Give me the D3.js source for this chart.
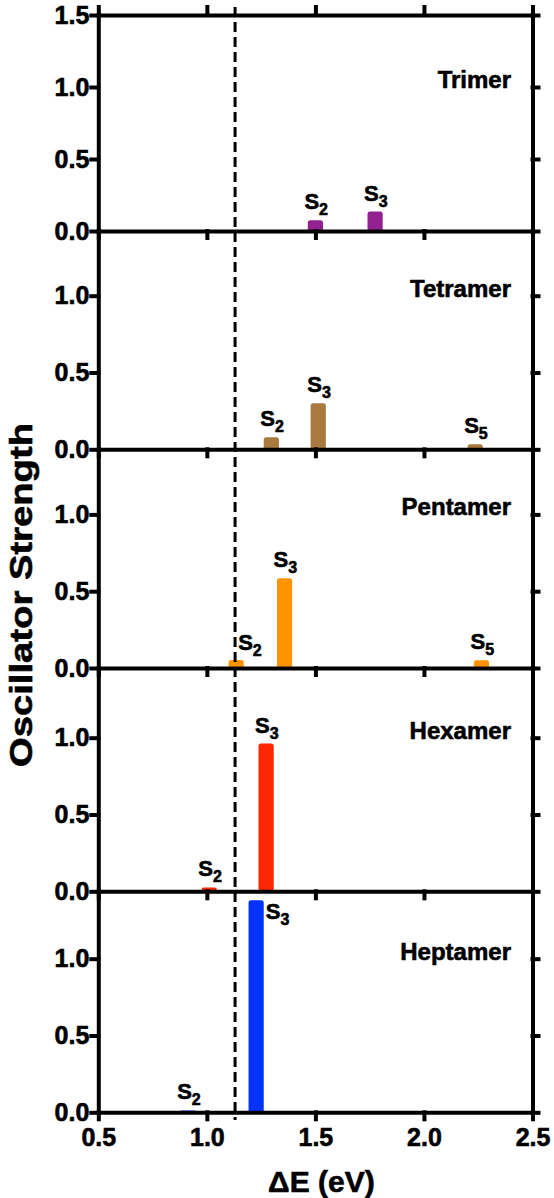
<!DOCTYPE html>
<html>
<head>
<meta charset="utf-8">
<title>Oscillator strength</title>
<script src="https://d3js.org/d3.v7.min.js"></script>
<style>
body { margin: 0; background: #fff; }
svg { display: block; background: #fff; }
text { font-family: "Liberation Sans", Arial, Helvetica, sans-serif; font-weight: bold; fill: #000;
       stroke: #000; stroke-width: 0.6px; }
.axis path, .axis line { stroke: #000; stroke-width: 4; stroke-linecap: square; }
.axis text { font-size: 25px; font-family: "Liberation Sans", Arial, sans-serif; font-weight: bold;
       stroke: #000; stroke-width: 0.6px; }
</style>
</head>
<body>
<script>
// data
var xTicks = [0.5, 1.0, 1.5, 2.0, 2.5];
var panelNames = ["Trimer", "Tetramer", "Pentamer", "Hexamer", "Heptamer"];
var panelColors = ["#942192", "#A9793F", "#FF9300", "#FF2600", "#0433FF"];
var thresholdE = 1.13;

var trimerE = [1.50, 1.775, 2.09];
var trimerF = [0.075, 0.135, 0.004];
var trimerS = ["2", "3", ""];

var tetramerE = [1.297, 1.513, 2.236];
var tetramerF = [0.078, 0.30, 0.033];
var tetramerS = ["2", "3", "5"];

var pentamerE = [1.135, 1.358, 2.265];
var pentamerF = [0.052, 0.584, 0.05];
var pentamerS = ["2", "3", "5"];

var hexamerE = [1.011, 1.273, 2.04];
var hexamerF = [0.025, 0.962, 0.006];
var hexamerS = ["2", "3", ""];

var heptamerE = [0.914, 1.227, 1.886];
var heptamerF = [0.012, 1.38, 0.004];
var heptamerS = ["2", "3", ""];

var panelE = [trimerE, tetramerE, pentamerE, hexamerE, heptamerE];
var panelF = [trimerF, tetramerF, pentamerF, hexamerF, heptamerF];
var panelS = [trimerS, tetramerS, pentamerS, hexamerS, heptamerS];

// layout
var W = 554, H = 1198;
var panelBase = [231, 449.3, 668, 891.3, 1112.3];
var panelTop  = [15, 231, 449.3, 668, 891.3];
var panelUnit = [144, 153.6, 153.6, 153.6, 153.6];   // px per 1.0 of strength
var barW = 0.07;  // in eV

var svg = d3.select("body").append("svg")
    .attr("width", W)
    .attr("height", H);

var x = d3.scaleLinear().domain([0.5, 2.5]).range([98.3, 532.5]);

// rounded-top bar
function barPath(x0, x1, yTop, yBot) {
    var r = Math.max(0, Math.min(2.5, (yBot - yTop) / 2, (x1 - x0) / 2));
    return "M" + x0 + "," + yBot +
        "V" + (yTop + r) +
        "Q" + x0 + "," + yTop + " " + (x0 + r) + "," + yTop +
        "H" + (x1 - r) +
        "Q" + x1 + "," + yTop + " " + x1 + "," + (yTop + r) +
        "V" + yBot + "Z";
}

function drawPanel(p) {
    var base = panelBase[p], pTop = panelTop[p];
    var y = d3.scaleLinear()
        .domain([0, (base - pTop) / panelUnit[p]])
        .range([base, pTop]);

    var g = svg.append("g").attr("class", "panel");

    var rows = panelE[p].map(function(e, i) {
        return { e: e, f: panelF[p][i], s: panelS[p][i] };
    });

    g.selectAll("path.bar")
        .data(rows)
        .enter().append("path")
        .attr("class", "bar")
        .attr("fill", panelColors[p])
        .attr("d", function(d) {
            return barPath(x(d.e - barW / 2), x(d.e + barW / 2), y(d.f), y(0));
        });

    // state labels
    rows.forEach(function(d) {
        if (!d.s) return;
        var lx = x(d.e) - 11, ly = y(d.f) - 11;
        if (p === 2 && d.s === "2") { lx = x(d.e) + 2; ly = y(d.f) - 10; }
        if (p === 4 && d.s === "3") { lx = x(d.e + barW / 2) + 2; ly = y(d.f) + 19; }
        var t = g.append("text")
            .attr("x", lx)
            .attr("y", ly)
            .style("font-size", "22px");
        t.append("tspan").text("S");
        t.append("tspan").attr("dy", 6).style("font-size", "16px").text(d.s);
    });

    // axes
    var yt = p === 0 ? [0, 0.5, 1.0, 1.5] : [0, 0.5, 1.0];
    g.append("g").attr("class", "axis")
        .attr("transform", "translate(" + x(0.5) + ",0)")
        .call(d3.axisLeft(y).tickValues(yt).tickSize(7).tickSizeOuter(0).tickPadding(2)
            .tickFormat(d3.format(".1f")));
    g.append("g").attr("class", "axis")
        .attr("transform", "translate(" + x(2.5) + ",0)")
        .call(d3.axisRight(y).tickValues(yt).tickSize(6).tickSizeOuter(0).tickFormat(""));
    g.append("g").attr("class", "axis")
        .attr("transform", "translate(0," + base + ")")
        .call(d3.axisBottom(x).tickValues(xTicks).tickSize(7).tickSizeOuter(0).tickPadding(9)
            .tickFormat(p === 4 ? d3.format(".1f") : ""));
    if (p === 0) {
        g.append("g").attr("class", "axis")
            .attr("transform", "translate(0," + pTop + ")")
            .call(d3.axisTop(x).tickValues(xTicks).tickSize(8).tickSizeOuter(0).tickFormat(""));
    }

    g.append("text")
        .attr("x", 511)
        .attr("y", y(1.0) + 1)
        .attr("text-anchor", "end")
        .style("font-size", "24px")
        .text(panelNames[p]);
}

for (var p = 0; p < 5; p++) drawPanel(p);

svg.selectAll(".axis text").style("font-size", "25px");

// dashed reference line
svg.append("line")
    .attr("x1", x(thresholdE)).attr("x2", x(thresholdE))
    .attr("y1", 7).attr("y2", 1120)
    .attr("stroke", "#000")
    .attr("stroke-width", 3)
    .attr("stroke-dasharray", "10,5");

// axis titles
svg.append("text")
    .attr("x", (x(0.5) + x(2.5)) / 2 + 6)
    .attr("y", 1192)
    .attr("text-anchor", "middle")
    .style("font-size", "30px")
    .text("\u0394E (eV)");

svg.append("text")
    .attr("transform", "translate(32,595) rotate(-90)")
    .attr("text-anchor", "middle")
    .attr("textLength", 344)
    .attr("lengthAdjust", "spacingAndGlyphs")
    .style("font-size", "31px")
    .text("Oscillator Strength");
</script>
</body>
</html>
